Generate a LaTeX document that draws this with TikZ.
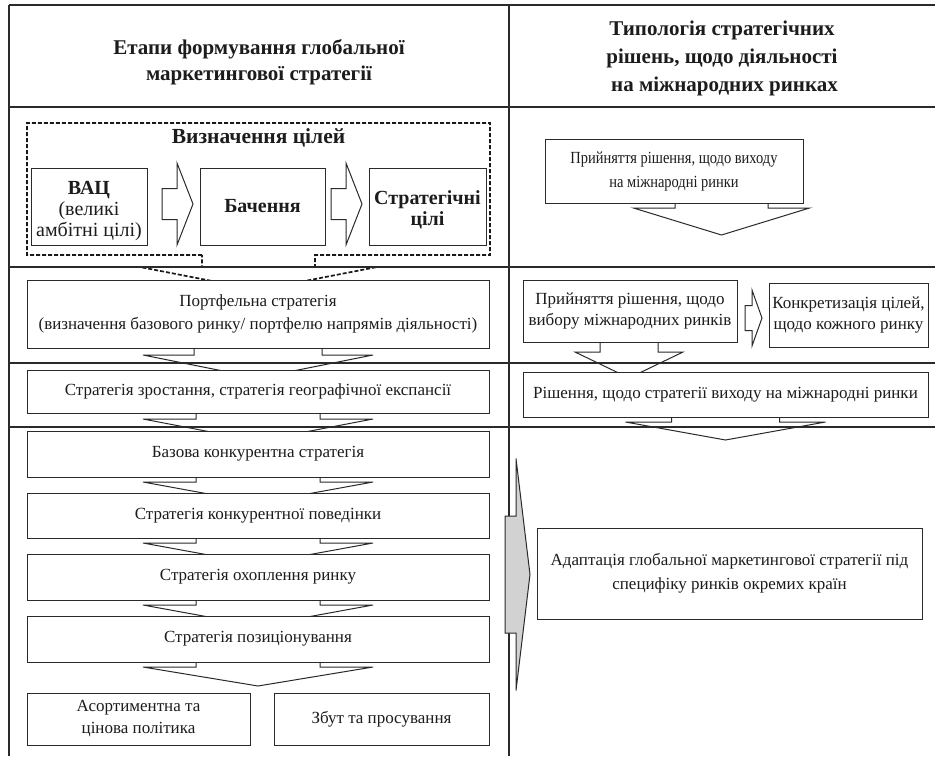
\documentclass[tikz,border=0pt]{standalone}
\usepackage{fontspec}
\setmainfont{Liberation Serif}
\newfontfamily\condserif[FakeStretch=0.85]{Liberation Serif}
\usetikzlibrary{calc}
\pgfdeclarelayer{back}
\pgfdeclarelayer{bg}
\pgfsetlayers{back,bg,main}
\definecolor{linec}{HTML}{2A2A2A}
\definecolor{txt}{HTML}{1C1C1C}
\definecolor{grayarr}{HTML}{D2D2D2}
\newcommand{\dnarr}[6]{%
  \begin{pgfonlayer}{bg}
  \draw[arr] ($(#1.south)+(#2-#3,0)$) -- ($(#1.south)+(#2-#3,#5)$) -- ($(#1.south)+(#2-#4,#5)$) -- ($(#1.south)+(#2,#6)$) -- ($(#1.south)+(#2+#4,#5)$) -- ($(#1.south)+(#2+#3,#5)$) -- ($(#1.south)+(#2+#3,0)$);
  \end{pgfonlayer}}
\newcommand{\rtarr}[5]{%
  \draw[arr,fill=white] ($#1+(0,-#4)$) -- ++(#2,0) -- ++(0,#4-#5) -- ($#1+(#2+#3,0)$) -- ($#1+(#2,#5)$) -- ++(0,#4-#5) -- ($#1+(0,#4)$) -- cycle;}
\begin{document}
\begin{tikzpicture}[x=1pt,y=-1pt,
  tbl/.style={draw=linec,line width=1.2pt},
  arr/.style={draw=linec,line width=1pt,line join=miter},
  box/.style={draw=linec,line width=1pt,fill=white,inner sep=2pt,outer sep=0pt,align=center,text=txt,font=\fontsize{17}{22}\selectfont},
  gbox/.style={box,font=\fontsize{20}{21}\selectfont},
  gtext/.style={align=center,text=txt,inner sep=0pt,font=\fontsize{20}{21}\selectfont},
  hdr/.style={align=center,text=txt,inner sep=0pt,font=\fontsize{21}{26}\selectfont\bfseries},
  dashl/.style={draw=black!90,line width=1.7pt,dash pattern=on 4pt off 2pt}]
\begin{pgfonlayer}{back}
\fill[white] (0,0) rectangle (935,756);
\end{pgfonlayer}
\useasboundingbox (0,0) rectangle (935,756);
% table
\draw[tbl] (9,5) -- (935,5);
\draw[tbl] (9,107) -- (935,107);
\draw[tbl] (9,267) -- (935,267);
\draw[tbl] (9,363) -- (935,363);
\draw[tbl] (9,427) -- (935,427);
\draw[tbl] (9,5) -- (9,756);
\draw[tbl] (509,5) -- (509,756);
% headers
\node[hdr] (h1) at (259,62) {Етапи формування глобальної\\маркетингової стратегії};
\node[hdr,font=\fontsize{21}{28}\selectfont\bfseries] (h2) at (722,58) {Типологія стратегічних\\рішень, щодо діяльності\\\hspace*{5pt}на міжнародних ринках};
% goals frame
\node[minimum width=463pt,minimum height=132pt,inner sep=0pt,outer sep=0pt] (goals) at (258.5,189) {};
\begin{pgfonlayer}{bg}
\draw[dashl] ($(goals.south)+(-56.5,0)$) -- (goals.south west) -- (goals.north west) -- (goals.north east) -- (goals.south east) -- ($(goals.south)+(56.5,0)$) -- ($(goals.south)+(56.5,12)$) -- ($(goals.south)+(118.5,12)$) -- ($(goals.south)+(0,35)$) -- ($(goals.south)+(-118.5,12)$) -- ($(goals.south)+(-56.5,12)$) -- cycle;
\end{pgfonlayer}
\node[hdr,font=\fontsize{21.5}{24}\selectfont\bfseries] (gt) at (258.5,138) {Визначення цілей};
\node[gbox,minimum width=116pt,minimum height=77pt] (vac) at (89,206.5) {};
\node[gtext] (vact) at ($(vac.center)+(0,4.5)$) {\textbf{ВАЦ}\\(великі\\амбітні цілі)};
\node[gbox,minimum width=125pt,minimum height=77pt] (bach) at (262.5,206.5) {\textbf{Бачення}};
\node[gbox,minimum width=117pt,minimum height=77pt] (sgoal) at (427.5,206.5) {};
\node[gtext] (sgoalt) at ($(sgoal.center)+(0,3)$) {\textbf{Стратегічні}\\\textbf{цілі}};
\coordinate (a1) at ($(vac.east)+(15,-2.5)$);
\coordinate (a2) at ($(bach.east)+(6,-2.5)$);
\rtarr{(a1)}{15}{16}{15.5}{41}
\rtarr{(a2)}{15}{16}{15.5}{41}
% left column
\node[box,minimum width=462pt,minimum height=68pt,font=\fontsize{17}{23}\selectfont] (port) at (258,314) {Портфельна стратегія\\(визначення базового ринку/ портфелю напрямів діяльності)};
\node[box,minimum width=462pt,minimum height=43pt] (grow) at (258,391.5) {Стратегія зростання, стратегія географічної експансії};
\node[box,minimum width=462pt,minimum height=46pt] (base) at (258,454) {Базова конкурентна стратегія};
\node[box,minimum width=462pt,minimum height=45pt] (comp) at (258,515.5) {Стратегія конкурентної поведінки};
\node[box,minimum width=462pt,minimum height=46pt] (cover) at (258,577) {Стратегія охоплення ринку};
\node[box,minimum width=462pt,minimum height=46pt] (pos) at (258,639) {Стратегія позиціонування};
\node[box,minimum width=223pt,minimum height=52pt] (assort) at (138.5,719) {Асортиментна та\\цінова політика};
\node[box,minimum width=215pt,minimum height=52pt] (sale) at (381.5,719) {Збут та просування};
\dnarr{port}{0}{64}{115}{7}{30}
\dnarr{grow}{0}{62}{115}{6}{28}
\dnarr{base}{0}{62}{115}{5}{26}
\dnarr{comp}{0}{62}{115}{5}{26}
\dnarr{cover}{0}{62}{115}{5}{26}
\dnarr{pos}{0}{62}{115}{5}{24}
% right column
\node[box,minimum width=258pt,minimum height=64pt,font=\condserif\fontsize{17}{24}\selectfont] (dec1) at (674,171) {Прийняття рішення, щодо виходу\\на міжнародні ринки};
\node[box,minimum width=214pt,minimum height=62pt,inner sep=0pt,font=\fontsize{17}{20.5}\selectfont] (sel) at (630,311) {Прийняття рішення, щодо\\вибору міжнародних ринків};
\node[box,minimum width=159pt,minimum height=64pt,inner sep=0pt,font=\fontsize{17}{20.5}\selectfont] (spec) at (848.5,315) {Конкретизація цілей,\\щодо кожного ринку};
\node[box,minimum width=405pt,minimum height=45pt] (exit) at (725.5,394.5) {Рішення, щодо стратегії виходу на міжнародні ринки};
\node[box,minimum width=385pt,minimum height=91pt,font=\fontsize{17}{24}\selectfont] (adapt) at (729.5,573.5) {Адаптація глобальної маркетингової стратегії під\\специфіку ринків окремих країн};
\dnarr{dec1}{47.5}{46.5}{88}{5}{32}
\dnarr{sel}{-1}{29}{54}{10}{36}
\dnarr{exit}{0}{54}{100}{5}{23}
\coordinate (a3) at ($(sel.east)+(8,7)$);
\rtarr{(a3)}{7}{10}{12.5}{28}
% gray arrow
\coordinate (gtip) at ($(adapt.west)+(-7,1)$);
\draw[arr,fill=grayarr] (gtip) -- ($(gtip)+(-14,-116)$) -- ($(gtip)+(-14,-58.5)$) -- ($(gtip)+(-25,-58.5)$) -- ($(gtip)+(-25,58.5)$) -- ($(gtip)+(-14,58.5)$) -- ($(gtip)+(-14,116)$) -- cycle;
\end{tikzpicture}
\end{document}
